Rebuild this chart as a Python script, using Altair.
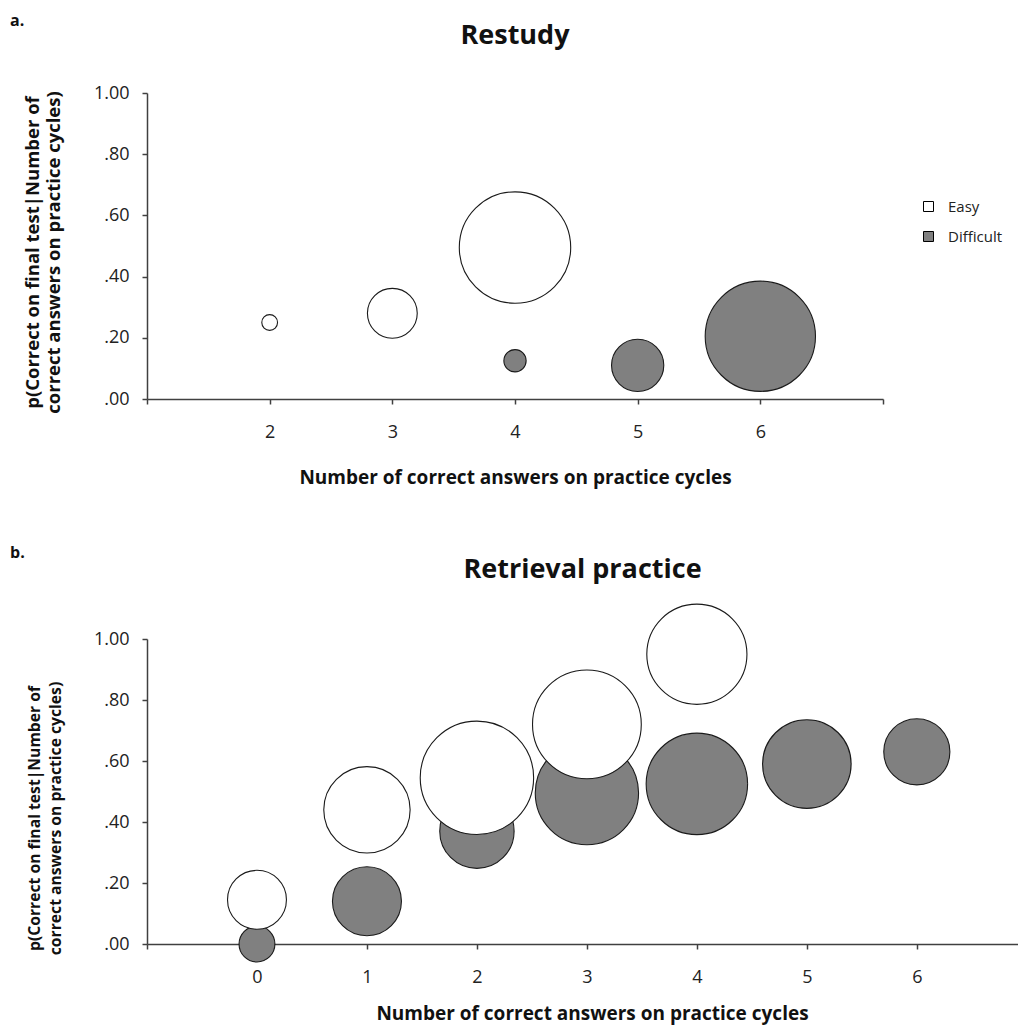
import altair as alt
import pandas as pd

# ---------------- data ----------------
# (a) Restudy
restudy_easy_x = [2, 3, 4]
restudy_easy_p = [0.25, 0.28, 0.495]
restudy_easy_n = [1, 10, 50]
restudy_diff_x = [4, 5, 6]
restudy_diff_p = [0.125, 0.11, 0.205]
restudy_diff_n = [2, 11, 49]

# (b) Retrieval practice
retr_easy_x = [0, 1, 2, 3, 4]
retr_easy_p = [0.145, 0.44, 0.545, 0.72, 0.95]
retr_easy_n = [13.5, 29, 50, 46, 39]
retr_diff_x = [0, 1, 2, 3, 4, 5, 6]
retr_diff_p = [0.0, 0.14, 0.37, 0.495, 0.525, 0.59, 0.63]
retr_diff_n = [5, 18.5, 21.5, 41.5, 40, 30.5, 17]

levels = ["Easy", "Difficult"]
y_ticks = [0, 0.2, 0.4, 0.6, 0.8, 1.0]
x_title = "Number of correct answers on practice cycles"
y_title = ["p(Correct on final test|Number of", "correct answers on practice cycles)"]

FONT = "Open Sans"


def make_df(ex, ep, en, dx, dp, dn):
    rows = []
    # Difficult first so Easy bubbles are drawn on top
    for x, p, n in zip(dx, dp, dn):
        rows.append({"x": x, "p": p, "n": n, "level": "Difficult", "ord": 0})
    for x, p, n in zip(ex, ep, en):
        rows.append({"x": x, "p": p, "n": n, "level": "Easy", "ord": 1})
    return pd.DataFrame(rows)


def panel(df, title, letter, xdom, xvals, lo, hi, width, height, r_max,
          title_offset, letter_y, ytitle_size, ytitle_y, xtitle_x, xtitle_y, show_legend):
    axis_common = dict(
        grid=False, domainColor="#404040", domainWidth=1.5,
        tickColor="#404040", tickWidth=1.5, tickSize=5,
        labelFont=FONT, labelFontSize=18, labelColor="#222222",
        titleFont=FONT, titleFontWeight="bold", titleColor="#111111",
    )
    x_axis = alt.Axis(
        values=xvals,
        labelExpr=f"datum.value >= {lo} && datum.value <= {hi} ? datum.label : ''",
        labelPadding=19, title=x_title, titleFontSize=19,
        titleY=xtitle_y, titleBaseline="alphabetic",
        **({"titleX": xtitle_x} if xtitle_x is not None else {}),
        **axis_common,
    )
    y_axis = alt.Axis(
        values=y_ticks,
        labelExpr="datum.value >= 1 ? '1.00' : substring(format(datum.value, '.2f'), 1)",
        labelPadding=13, title=y_title, titleFontSize=ytitle_size,
        titleLineHeight=21, titleAngle=270, titleAlign="center",
        titleBaseline="bottom", titleX=-105, titleY=ytitle_y,
        **axis_common,
    )
    if show_legend:
        legend = alt.Legend(
            title=None, orient="none", legendX=774, legendY=106,
            symbolType="square", symbolSize=100, symbolStrokeColor="#000000",
            symbolStrokeWidth=1, symbolOpacity=1, labelFont=FONT,
            labelFontSize=15, labelColor="#222222", labelOffset=12,
            rowPadding=14, padding=0,
        )
    else:
        legend = None

    bubbles = alt.Chart(df).mark_circle(
        opacity=1, stroke="#1a1a1a", strokeWidth=1.1
    ).encode(
        x=alt.X("x:Q", scale=alt.Scale(domain=xdom, nice=False, zero=False), axis=x_axis),
        y=alt.Y("p:Q", scale=alt.Scale(domain=[0, 1], nice=False), axis=y_axis),
        size=alt.Size("n:Q", scale=alt.Scale(type="linear", zero=True, domain=[0, 50],
                                             range=[0, 4 * r_max * r_max]), legend=None),
        fill=alt.Fill("level:N", scale=alt.Scale(domain=levels, range=["#ffffff", "#808080"]),
                      legend=legend),
        order=alt.Order("ord:Q"),
    )

    tag = alt.Chart(pd.DataFrame({"t": [letter]})).mark_text(
        align="left", baseline="alphabetic", font=FONT, fontSize=16,
        fontWeight="bold", color="#111111"
    ).encode(x=alt.value(-137), y=alt.value(letter_y), text="t:N")

    return alt.layer(bubbles, tag).properties(
        width=width, height=height,
        title=alt.TitleParams(title, font=FONT, fontSize=27, fontWeight="bold",
                              color="#111111", anchor="middle", frame="group",
                              baseline="alphabetic", offset=title_offset),
    )


top_df = make_df(restudy_easy_x, restudy_easy_p, restudy_easy_n,
                 restudy_diff_x, restudy_diff_p, restudy_diff_n)
bot_df = make_df(retr_easy_x, retr_easy_p, retr_easy_n,
                 retr_diff_x, retr_diff_p, retr_diff_n)

top = panel(top_df, "Restudy", "a.", [1, 7], [1, 2, 3, 4, 5, 6, 7], 2, 6,
            736, 306, 55.7, -58, -67, 18.5, 159, None, 84, True)
bottom = panel(bot_df, "Retrieval practice", "b.", [-1, 6.92], [-1, 0, 1, 2, 3, 4, 5, 6], 0, 6,
               871, 305, 56.7, -60, -81, 15.7, 179, 445, 75, False)

chart = alt.vconcat(top, bottom, spacing=58).resolve_scale(
    fill="independent", size="independent"
).properties(
    padding={"left": 2, "top": 5, "right": 0, "bottom": 3},
    background="#ffffff",
).configure_view(stroke=None)

chart.save("out.html", embed_options={"renderer": "svg", "actions": False})
